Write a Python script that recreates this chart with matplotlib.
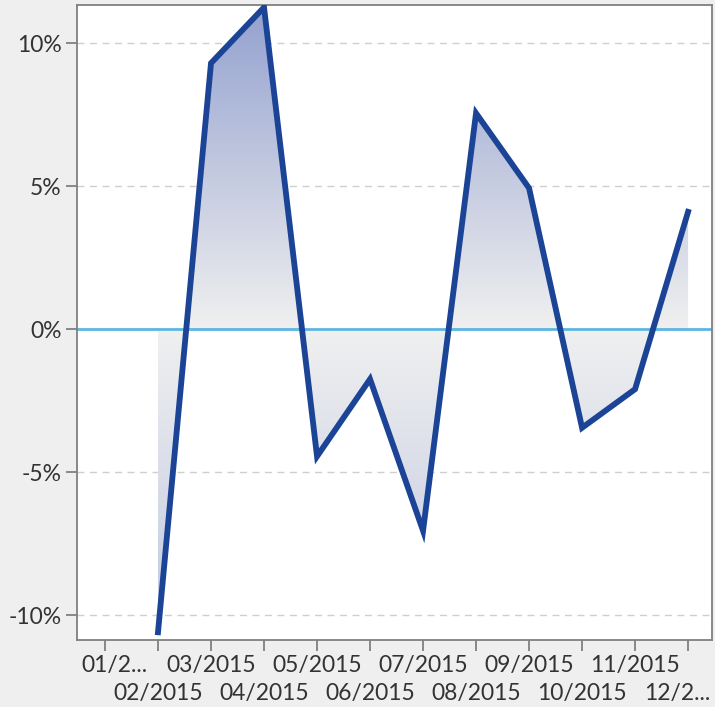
import numpy as np
import matplotlib.pyplot as plt
from matplotlib.colors import LinearSegmentedColormap
from matplotlib.transforms import ScaledTranslation

plt.rcParams['font.family'] = ['Lato', 'DejaVu Sans']

months = ['01/2015', '02/2015', '03/2015', '04/2015', '05/2015', '06/2015',
          '07/2015', '08/2015', '09/2015', '10/2015', '11/2015', '12/2015']
# monthly return in %, no value for January
returns = [np.nan, -10.6, 9.3, 11.25, -4.45, -1.75, -7.05, 7.55, 4.93, -3.45, -2.1, 4.1]

ylo, yhi = -10.87, 11.33

fig = plt.figure(figsize=(7.15, 7.07), dpi=100, facecolor='#efefef')
ax = fig.add_axes([0.1077, 0.0948, 0.888, 0.898])
ax.set_facecolor('white')

x = np.arange(len(months))
y = np.array(returns)
ok = ~np.isnan(y)

# gradient fill between line and zero
poly = ax.fill_between(x[ok], y[ok], 0, interpolate=True, facecolor='none', edgecolor='none')
cmap = LinearSegmentedColormap.from_list('g', [(0, '#c0c8e1'),
                                              (-ylo / (yhi - ylo), '#f0f0f0'),
                                              (1, '#93a1cf')])
grad = np.linspace(ylo, yhi, 256).reshape(-1, 1)
im = ax.imshow(grad, extent=[x[0] - 1, x[-1] + 1, ylo, yhi], origin='lower',
               aspect='auto', cmap=cmap, vmin=ylo, vmax=yhi, zorder=1)
im.set_clip_path(poly.get_paths()[0], transform=ax.transData)

for v in [-10, -5, 5, 10]:
    ax.axhline(v, color='#cfcfcf', lw=1, ls=(0, (5, 4)), zorder=0.5)
ax.axhline(0, color='#5db6e2', lw=2, zorder=2)

ax.plot(x, y, color='#1b4496', lw=4.2, zorder=3, solid_joinstyle='miter')

ax.set_xlim(-0.528, 11.45)
ax.set_ylim(ylo, yhi)

short = [m if i not in (0, 11) else m[:4] + '...' for i, m in enumerate(months)]
# staggered labels: even months on major ticks, odd on minor ticks one row lower
ax.set_xticks(x[0::2])
ax.set_xticklabels(short[0::2])
ax.set_xticks(x[1::2], minor=True)
ax.set_xticklabels(short[1::2], minor=True)
ax.set_yticks([-10, -5, 0, 5, 10])
ax.set_yticklabels(['-10%', '-5%', '0%', '5%', '10%'])

ax.tick_params(axis='both', which='both', labelsize=16.5, labelcolor='#333333',
               color='#808080', length=8, width=1.3, direction='out')
ax.tick_params(axis='x', which='major', pad=3)
ax.tick_params(axis='x', which='minor', pad=23)
ax.tick_params(axis='y', pad=3)

# truncated labels sit a bit off their ticks
ax.get_xticklabels()[0].set_transform(ax.get_xticklabels()[0].get_transform()
                                      + ScaledTranslation(0.09, 0, fig.dpi_scale_trans))
lab = ax.get_xticklabels(minor=True)[-1]
lab.set_transform(lab.get_transform() + ScaledTranslation(-0.11, 0, fig.dpi_scale_trans))

for s in ax.spines.values():
    s.set_color('#808080')
    s.set_linewidth(1.3)

fig.savefig('out.png', dpi=100, facecolor=fig.get_facecolor())
